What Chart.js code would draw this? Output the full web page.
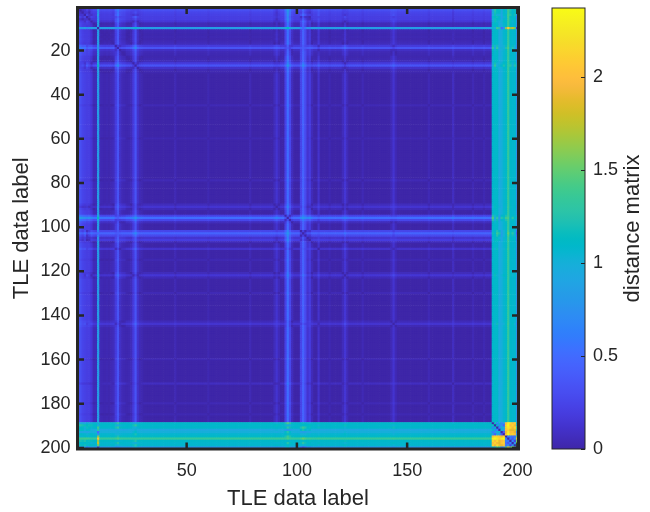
<!DOCTYPE html>
<html><head><meta charset="utf-8">
<script src="https://cdn.jsdelivr.net/npm/chart.js@4.4.1/dist/chart.umd.min.js"></script>
<style>
html,body{margin:0;padding:0;background:#fff;}
#wrap{position:relative;width:650px;height:512px;overflow:hidden;}
#main{position:absolute;left:0;top:0;}
#cbar{position:absolute;left:530px;top:0;}
</style></head><body>
<div id="wrap"><canvas id="main" width="650" height="512"></canvas><canvas id="cbar" width="120" height="512"></canvas></div>
<script>
// ---------------- data ----------------
const labels = Array.from({length: 200}, (_, k) => k + 1); // TLE data labels 1..200
const xTicks = [50, 100, 150, 200];
const yTicks = [20, 40, 60, 80, 100, 120, 140, 160, 180, 200];
const cbTicks = [0, 0.5, 1, 1.5, 2];
const cMax = 2.37;
// estimated embedding coordinates of each TLE label (distance matrix = pairwise distances)
const posX = [
 0,0,0,0.05,0,0,0,0,0,0.40,
 0,0,0,0,0,0,0,0,0,0,
 0,0,0,0,0,0,0,0,0,0,
 0,0,0,0,0,0,0,0,0,0,
 0,0,0,0,0,0,0,0,0,0,
 0,0,0,0,0,0,0,0,0,0,
 0,0,0,0,0,0,0,0,0,0,
 0,0,0,0,0,0,0,0,0,0,
 0,0,0,0,0,0,0,0,0,0,
 0,0,0,0,0,0,0,0,0,0,
 0,0,0,0,0,0,0,0,0,0,
 0,0,0,0,0,0,0,0,0,0,
 0,0,0,0,0,0,0,0,0,0,
 0,0,0,0,0,0,0,0,0,0,
 0,0,0,0,0,0,0,0,0,0,
 0,0,0,0,0,0,0,0,0,0,
 0,0,0,0,0,0,0,0,0,0,
 0,0,0,0,0,0,0,0,0,0,
 0,0,0,0,0,0,0,0,0.91,0.91,
 0.93,0.78,0.84,0.99,-1.05,-1.30,-1.05,-1.00,-1.00,0.30
];
const posY = [
 0.33,0.30,0.22,0.22,0.10,0.18,0.14,0.05,0.04,0.05,
 0.04,0.03,0.02,0.03,0.02,0.04,0.06,-0.15,-0.30,-0.08,
 -0.04,-0.03,0.02,0.03,0.06,0.15,0.30,0.10,0.04,0.02,
 0,0,0,0,0,0,0,0,0,0,
 0,0,0,0,0.04,0,0,0,0,0,
 0,0,0,0,0,0,0,0,0,0.03,
 0,0,0,0,0,0,0,0,0,0,
 0,0,0,0,0,0,0,0,0.04,0,
 0,0,0,0,0,0,0,0,0,0.06,
 0.12,0.05,0,0,-0.20,-0.50,-0.25,-0.06,0,0,
 0,0.05,0,0.05,0.08,0.12,0.05,0,0,-0.10,
 0,0,0,0,0.03,0,0,0,0,0,
 0.06,0.12,0.05,0,0,0,0,0,0,0.04,
 0,0,0,0,0,0,0,0,0,0,
 0,0,-0.05,-0.08,-0.04,0,0,0,0,0,
 0,0,0,0,0,0,0,0,0,0.04,
 0,0,0,0,0,0,0,0,0,0,
 0.07,0,0,0,0,0,0,0,0,0.04,
 0,0,0,0,0.03,0,0,0,0.60,-0.55,
 0.30,-0.35,0.15,-0.15,0.30,0.05,-0.30,0.25,-0.25,0.00
];
const posZ = [
 0.05,0.10,0.12,0,0.18,0.10,-0.05,0,0.03,0.75,
 0,0,0,0,0,0,0,0.10,0.18,0.04,
 0,0,0,0,0,-0.10,-0.18,-0.05,0,0,
 0,0,0,0,0,0,0,0,0,0,
 0,0,0,0,0,0,0,0,0,0,
 0,0,0,0,0,0,0,0,0,0,
 0,0,0,0,0,0,0,0,0,0,
 0,0,0,0,0,0,0,0,0,0,
 0,0,0,0,0,0,0,0,0,0,
 0.05,0,0,0,-0.10,-0.15,-0.05,0,0,0,
 0,0.25,0.45,0.28,0.10,0.15,0,0,0,0.06,
 0,0,0,0,0,0,0,0,0,0,
 0,-0.08,0,0,0,0,0,0,0,0,
 0,0,0,0,0,0,0,0,0,0,
 0,0,0,0.10,0,0,0,0,0,0,
 0,0,0,0,0,0,0,0,0,0,
 0,0,0,0,0,0,0,0,0,0,
 0.03,0,0,0,0,0,0,0,0,0,
 0,0,0,0,0,0,0,0,0.05,0.20,
 -0.50,-0.40,0.50,0.35,0.20,-0.30,0.10,-0.30,0.30,0.70
];

// ---------------- colormap (parula) ----------------
const PARULA = [
[0.2422,0.1504,0.6603],[0.2504,0.1650,0.7076],[0.2578,0.1818,0.7511],[0.2647,0.1978,0.7952],
[0.2706,0.2147,0.8364],[0.2751,0.2342,0.8710],[0.2783,0.2559,0.8991],[0.2803,0.2782,0.9221],
[0.2813,0.3006,0.9414],[0.2810,0.3228,0.9579],[0.2795,0.3447,0.9717],[0.2760,0.3667,0.9829],
[0.2699,0.3892,0.9906],[0.2602,0.4123,0.9952],[0.2440,0.4358,0.9988],[0.2206,0.4603,0.9973],
[0.1963,0.4847,0.9892],[0.1834,0.5074,0.9798],[0.1786,0.5289,0.9682],[0.1764,0.5499,0.9520],
[0.1687,0.5703,0.9359],[0.1540,0.5902,0.9218],[0.1460,0.6091,0.9079],[0.1380,0.6276,0.8973],
[0.1248,0.6459,0.8883],[0.1113,0.6635,0.8763],[0.0952,0.6798,0.8598],[0.0689,0.6948,0.8394],
[0.0297,0.7082,0.8163],[0.0036,0.7203,0.7917],[0.0067,0.7312,0.7660],[0.0433,0.7411,0.7394],
[0.0964,0.7500,0.7120],[0.1408,0.7584,0.6842],[0.1717,0.7670,0.6554],[0.1938,0.7758,0.6251],
[0.2161,0.7843,0.5923],[0.2470,0.7918,0.5567],[0.2906,0.7973,0.5188],[0.3406,0.8008,0.4789],
[0.3909,0.8029,0.4354],[0.4456,0.8024,0.3909],[0.5044,0.7993,0.3480],[0.5616,0.7942,0.3045],
[0.6174,0.7876,0.2612],[0.6720,0.7793,0.2227],[0.7242,0.7698,0.1910],[0.7738,0.7598,0.1646],
[0.8203,0.7498,0.1535],[0.8634,0.7406,0.1596],[0.9035,0.7330,0.1774],[0.9393,0.7288,0.2100],
[0.9728,0.7298,0.2394],[0.9956,0.7434,0.2371],[0.9970,0.7659,0.2199],[0.9952,0.7893,0.2028],
[0.9892,0.8136,0.1885],[0.9786,0.8386,0.1766],[0.9676,0.8639,0.1643],[0.9610,0.8890,0.1537],
[0.9597,0.9135,0.1423],[0.9628,0.9373,0.1265],[0.9691,0.9606,0.1064],[0.9769,0.9839,0.0805]
];
function rgbStr(c){return 'rgb('+Math.round(c[0]*255)+','+Math.round(c[1]*255)+','+Math.round(c[2]*255)+')';}
function parula(v){
  let t = Math.max(0, Math.min(1, v / cMax)) * (PARULA.length - 1);
  const k = Math.min(PARULA.length - 2, Math.floor(t)); const f = t - k;
  const a = PARULA[k], b = PARULA[k+1];
  return rgbStr([a[0]+(b[0]-a[0])*f, a[1]+(b[1]-a[1])*f, a[2]+(b[2]-a[2])*f]);
}

// ---------------- cells ----------------
const cells = [];
for (let i = 0; i < labels.length; i++) {
  for (let j = 0; j < labels.length; j++) {
    const dx = posX[i]-posX[j], dy = posY[i]-posY[j], dz = posZ[i]-posZ[j];
    cells.push({x: labels[j], y: labels[i], v: Math.sqrt(dx*dx+dy*dy+dz*dz)});
  }
}

const INK = '#262626';
const FONT = "'Liberation Sans', Arial, Helvetica, sans-serif";

const framePlugin = {
  id: 'frame',
  afterDraw(chart) {
    const {ctx, chartArea: a, scales: {x, y}} = chart;
    ctx.save();
    ctx.strokeStyle = INK;
    ctx.lineWidth = 2.5;
    ctx.beginPath();
    const L = 6.5;
    xTicks.forEach(v => { const p = x.getPixelForValue(v);
      ctx.moveTo(p, a.bottom); ctx.lineTo(p, a.bottom - L);
      ctx.moveTo(p, a.top); ctx.lineTo(p, a.top + L); });
    yTicks.forEach(v => { const p = y.getPixelForValue(v);
      ctx.moveTo(a.left, p); ctx.lineTo(a.left + L, p);
      ctx.moveTo(a.right, p); ctx.lineTo(a.right - L, p); });
    ctx.stroke();
    ctx.lineWidth = 3;
    ctx.strokeRect(a.left, a.top, a.right - a.left, a.bottom - a.top);
    ctx.restore();
  }
};

new Chart(document.getElementById('main'), {
  type: 'scatter',
  data: { datasets: [{
    data: cells,
    parsing: false,
    normalized: true,
    pointStyle: 'rect',
    borderWidth: 0,
    pointRadius: (c) => {
      const s = c.chart.scales.x;
      const w = Math.abs(s.getPixelForValue(2) - s.getPixelForValue(1));
      return (w + 0.7) / (2 * Math.SQRT1_2);
    },
    backgroundColor: (c) => c.raw ? parula(c.raw.v) : '#000'
  }]},
  options: {
    responsive: false, animation: false, events: [],
    layout: { padding: { left: 0, top: 7.5, right: 131.5, bottom: 0 } },
    plugins: { legend: {display: false}, tooltip: {enabled: false} },
    scales: {
      x: {
        type: 'linear', min: 0.5, max: 200.5,
        afterBuildTicks: s => { s.ticks = xTicks.map(v => ({value: v})); },
        afterFit: s => { s.height = 63; s.paddingLeft = 0; s.paddingRight = 0; },
        grid: {display: false, drawTicks: false}, border: {display: false},
        ticks: { padding: 11, color: INK, font: {family: FONT, size: 18}, maxRotation: 0, autoSkip: false },
        title: { display: true, text: 'TLE data label', color: INK, font: {family: FONT, size: 22}, padding: {top: 0, bottom: 0} }
      },
      y: {
        type: 'linear', min: 0.5, max: 200.5, reverse: true,
        afterBuildTicks: s => { s.ticks = yTicks.map(v => ({value: v})); },
        afterFit: s => { s.width = 77.5; s.paddingTop = 0; s.paddingBottom = 0; },
        grid: {display: false, drawTicks: false}, border: {display: false},
        ticks: { padding: 7, color: INK, font: {family: FONT, size: 18}, autoSkip: false },
        title: { display: true, text: 'TLE data label', color: INK, font: {family: FONT, size: 22}, padding: {top: 9, bottom: 0} }
      }
    }
  },
  plugins: [framePlugin]
});

// ---------------- colorbar ----------------
const cbPlugin = {
  id: 'cbframe',
  afterDraw(chart) {
    const {ctx, chartArea: a, scales: {y}} = chart;
    ctx.save();
    ctx.strokeStyle = INK; ctx.lineWidth = 1;
    ctx.beginPath();
    cbTicks.forEach(v => { const p = Math.round(y.getPixelForValue(v)) + 0.5;
      ctx.moveTo(a.right, p); ctx.lineTo(a.right - 4, p); });
    ctx.stroke();
    ctx.strokeRect(a.left, a.top, a.right - a.left, a.bottom - a.top);
    ctx.fillStyle = INK;
    ctx.font = '22px ' + FONT;
    ctx.textAlign = 'center'; ctx.textBaseline = 'middle';
    ctx.translate(103, (a.top + a.bottom) / 2);
    ctx.rotate(-Math.PI / 2);
    ctx.fillText('distance matrix', 0, 0);
    ctx.restore();
  }
};

new Chart(document.getElementById('cbar'), {
  type: 'bar',
  data: { labels: [''], datasets: [{
    data: [[0, cMax]],
    barPercentage: 1, categoryPercentage: 1, borderWidth: 0,
    backgroundColor: (c) => {
      const {chartArea, ctx} = c.chart;
      if (!chartArea) return rgbStr(PARULA[0]);
      const g = ctx.createLinearGradient(0, chartArea.bottom, 0, chartArea.top);
      PARULA.forEach((col, k) => g.addColorStop(k / (PARULA.length - 1), rgbStr(col)));
      return g;
    }
  }]},
  options: {
    responsive: false, animation: false, events: [],
    layout: { padding: { left: 22, top: 8, right: 0, bottom: 63 } },
    plugins: { legend: {display: false}, tooltip: {enabled: false} },
    scales: {
      x: { display: false },
      y: {
        position: 'right', min: 0, max: cMax,
        afterBuildTicks: s => { s.ticks = cbTicks.map(v => ({value: v})); },
        afterFit: s => { s.width = 65; s.paddingTop = 0; s.paddingBottom = 0; },
        grid: {display: false, drawTicks: false}, border: {display: false},
        ticks: { padding: 8, color: INK, font: {family: FONT, size: 18}, callback: v => String(v) }
      }
    }
  },
  plugins: [cbPlugin]
});
</script>
</body></html>
